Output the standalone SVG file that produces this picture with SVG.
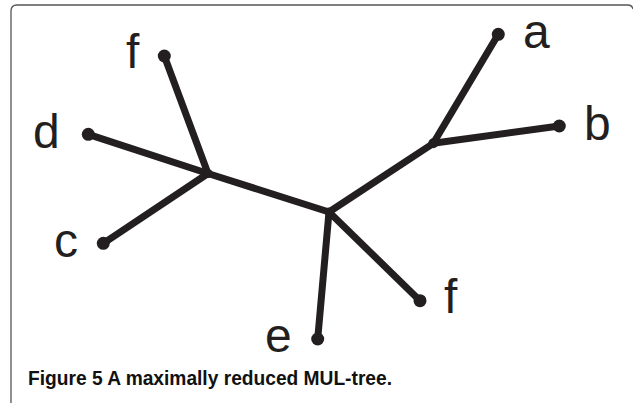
<svg xmlns="http://www.w3.org/2000/svg" width="633" height="403" viewBox="0 0 633 403">
  <style>
    .edge { stroke: #231f20; stroke-width: 7; stroke-linecap: round; fill: none; }
    .leaf { fill: #231f20; }
    .inner { fill: #231f20; }
    .lbl { font-family: "Liberation Sans", Arial, sans-serif; font-size: 48px; fill: #231f20; }
    .cap { font-family: "Liberation Sans", Arial, sans-serif; font-size: 20px; font-weight: bold; fill: #111111; }
  </style>
  <rect x="0" y="0" width="633" height="403" fill="#ffffff"/>
  <path d="M11,420 L11,11 Q11,5 17,5 L628,5 Q632,5 633,9" fill="none" stroke="#555555" stroke-width="1.3"/>

  <g id="connectors">
    <line class="edge" x1="208" y1="173.5" x2="164.3" y2="56"/>
    <line class="edge" x1="208" y1="173.5" x2="88.3" y2="134.3"/>
    <line class="edge" x1="208" y1="173.5" x2="103.3" y2="243.3"/>
    <line class="edge" x1="208" y1="173.5" x2="329" y2="212"/>
    <line class="edge" x1="329" y1="212" x2="433.3" y2="143.3"/>
    <line class="edge" x1="433.3" y1="143.3" x2="498.3" y2="34.3"/>
    <line class="edge" x1="433.3" y1="143.3" x2="559.3" y2="126"/>
    <line class="edge" x1="329" y1="212" x2="420" y2="300.7"/>
    <line class="edge" x1="329" y1="212" x2="317.7" y2="339"/>
  </g>

  <g id="node-left"><circle class="inner" cx="208" cy="173.5" r="4.5"/></g>
  <g id="node-center"><circle class="inner" cx="329" cy="212" r="4.5"/></g>
  <g id="node-right"><circle class="inner" cx="433.3" cy="143.3" r="5"/></g>

  <g id="leaf-f1"><circle class="leaf" cx="164.3" cy="56" r="6.5"/><text class="lbl" x="126" y="68">f</text></g>
  <g id="leaf-d"><circle class="leaf" cx="88.3" cy="134.3" r="6.5"/><text class="lbl" x="33" y="148">d</text></g>
  <g id="leaf-c"><circle class="leaf" cx="103.3" cy="243.3" r="6.5"/><text class="lbl" x="54" y="257">c</text></g>
  <g id="leaf-a"><circle class="leaf" cx="498.3" cy="34.3" r="6.5"/><text class="lbl" x="523" y="48">a</text></g>
  <g id="leaf-b"><circle class="leaf" cx="559.3" cy="126" r="6.5"/><text class="lbl" x="584" y="140">b</text></g>
  <g id="leaf-f2"><circle class="leaf" cx="420" cy="300.7" r="6.5"/><text class="lbl" x="444" y="313">f</text></g>
  <g id="leaf-e"><circle class="leaf" cx="317.7" cy="339" r="6.5"/><text class="lbl" x="265" y="352">e</text></g>

  <text class="cap" x="28" y="385" textLength="364" lengthAdjust="spacingAndGlyphs">Figure 5 A maximally reduced MUL-tree.</text>
</svg>
